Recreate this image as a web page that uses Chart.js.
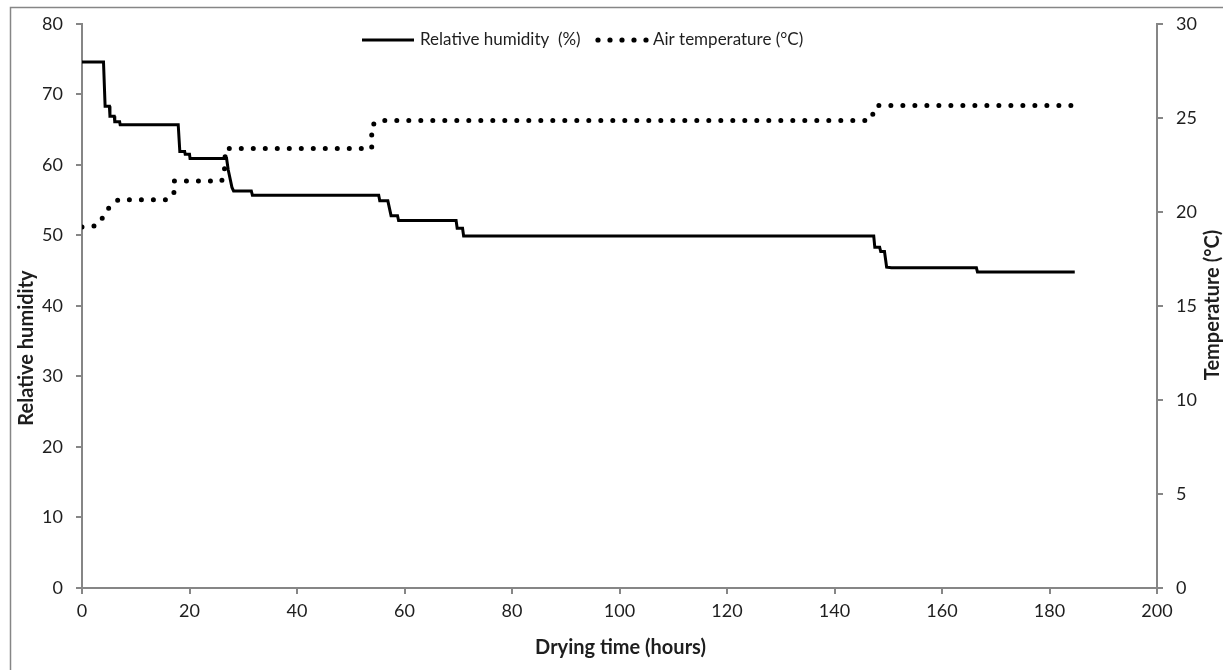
<!DOCTYPE html>
<html>
<head>
<meta charset="utf-8">
<script src="https://cdn.jsdelivr.net/npm/chart.js@4.4.0/dist/chart.umd.min.js"></script>
<style>
  html, body { margin: 0; padding: 0; background: #fff; }
  #wrap { position: relative; width: 1223px; height: 670px; }
</style>
</head>
<body>
<div id="wrap"><canvas id="c" width="1223" height="670"></canvas></div>
<script>
// ---- Data ----
const rhHours  = [0, 4.0, 4.3, 5.1, 5.2, 6.0, 6.1, 7.0, 7.1, 17.9, 18.2, 19.1, 19.2, 20.0, 20.1, 26.9, 27.2, 27.9, 28.2, 31.5, 31.7, 55.2, 55.4, 56.9, 57.5, 58.7, 58.9, 69.6, 69.8, 70.8, 71.0, 147.3, 147.5, 148.4, 148.6, 149.3, 149.7, 150.6, 166.4, 166.6, 184.7];
const rhValues = [74.6, 74.6, 68.3, 68.3, 66.9, 66.9, 66.1, 66.1, 65.7, 65.7, 61.9, 61.9, 61.5, 61.5, 60.9, 60.9, 59.3, 56.8, 56.3, 56.3, 55.7, 55.7, 54.9, 54.9, 52.8, 52.8, 52.1, 52.1, 51.0, 51.0, 49.9, 49.9, 48.3, 48.3, 47.7, 47.7, 45.5, 45.4, 45.4, 44.8, 44.8];

const tempHours  = [0, 2.5, 3.5, 4.3, 5.5, 6.8, 15.8, 17.1, 17.1, 26.0, 26.5, 26.7, 53.9, 53.9, 55.4, 146.6, 147.3, 147.8, 184.0];
const tempValues = [19.2, 19.25, 19.5, 20.0, 20.35, 20.65, 20.65, 20.95, 21.64, 21.64, 22.2, 23.37, 23.37, 24.6, 24.86, 24.86, 25.3, 25.66, 25.66];

const xTicks = { min: 0, max: 200, step: 20 };
const yLeftTicks = { min: 0, max: 80, step: 10 };
const yRightTicks = { min: 0, max: 30, step: 5 };

const labels = {
  rh: 'Relative humidity  (%)',
  temp: 'Air temperature (°C)',
  xTitle: 'Drying time (hours)',
  yLeftTitle: 'Relative humidity',
  yRightTitle: 'Temperature (°C)'
};

const rhData = rhHours.map((h, i) => ({ x: h, y: rhValues[i] }));
const tempData = tempHours.map((h, i) => ({ x: h, y: tempValues[i] }));

const AXIS = '#868686';
const TXT = '#1e1e1e';
const FONT = 'Lato, "Liberation Sans", sans-serif';

const deco = {
  id: 'deco',
  afterDraw(chart) {
    const ctx = chart.ctx;
    const ca = chart.chartArea;
    ctx.save();
    // outer frame
    ctx.strokeStyle = AXIS;
    ctx.lineWidth = 1.5;
    ctx.strokeRect(10.5, 7.5, 1400, 800);

    // legend
    const ly = 40;
    ctx.fillStyle = TXT;
    ctx.font = '17px ' + FONT;
    ctx.textBaseline = 'middle';
    ctx.strokeStyle = '#000';
    ctx.lineWidth = 3;
    ctx.beginPath(); ctx.moveTo(362, ly); ctx.lineTo(414, ly); ctx.stroke();
    ctx.textAlign = 'left';
    ctx.fillText(labels.rh, 420, ly);
    ctx.fillStyle = '#000';
    for (let i = 0; i < 5; i++) {
      ctx.beginPath(); ctx.arc(598 + i * 12, ly, 2.6, 0, Math.PI * 2); ctx.fill();
    }
    ctx.fillStyle = TXT;
    ctx.fillText(labels.temp, 653, ly);

    // axis titles
    ctx.font = 'bold 20px ' + FONT;
    ctx.textAlign = 'center';
    ctx.fillText(labels.xTitle, (ca.left + ca.right) / 2 + 1, 648);
    ctx.save();
    ctx.translate(27, 348);
    ctx.rotate(-Math.PI / 2);
    ctx.fillText(labels.yLeftTitle, 0, 0);
    ctx.restore();
    ctx.save();
    ctx.translate(1213, 305);
    ctx.rotate(-Math.PI / 2);
    ctx.fillText(labels.yRightTitle, 0, 0);
    ctx.restore();
    ctx.restore();
  }
};

const gridOpts = {
  display: true,
  drawOnChartArea: false,
  drawTicks: true,
  tickLength: 6,
  color: AXIS,
  lineWidth: 2
};

new Chart(document.getElementById('c'), {
  type: 'line',
  data: {
    datasets: [
      {
        label: labels.rh,
        data: rhData,
        yAxisID: 'y',
        borderColor: '#000',
        borderWidth: 3,
        pointRadius: 0,
        tension: 0,
        fill: false
      },
      {
        label: labels.temp,
        data: tempData,
        yAxisID: 'y1',
        borderColor: '#000',
        borderWidth: 5,
        borderDash: [0, 12],
        borderCapStyle: 'round',
        pointRadius: 0,
        tension: 0,
        fill: false
      }
    ]
  },
  options: {
    responsive: false,
    animation: false,
    layout: { padding: { top: 20, left: 0, right: 0, bottom: 0 } },
    plugins: { legend: { display: false }, tooltip: { enabled: false } },
    scales: {
      x: {
        type: 'linear',
        min: xTicks.min, max: xTicks.max,
        ticks: { stepSize: xTicks.step, color: TXT, font: { family: FONT, size: 18 }, padding: 6, maxRotation: 0 },
        grid: gridOpts,
        border: { color: AXIS, width: 2 },
        afterFit(s) { s.height = 82; }
      },
      y: {
        position: 'left',
        min: yLeftTicks.min, max: yLeftTicks.max,
        ticks: { stepSize: yLeftTicks.step, color: TXT, font: { family: FONT, size: 18 }, padding: 13 },
        grid: gridOpts,
        border: { color: AXIS, width: 2 },
        afterFit(s) { s.width = 82; }
      },
      y1: {
        position: 'right',
        min: yRightTicks.min, max: yRightTicks.max,
        ticks: { stepSize: yRightTicks.step, color: TXT, font: { family: FONT, size: 18 }, padding: 13 },
        grid: gridOpts,
        border: { color: AXIS, width: 2 },
        afterFit(s) { s.width = 66; }
      }
    }
  },
  plugins: [deco]
});
</script>
</body>
</html>
